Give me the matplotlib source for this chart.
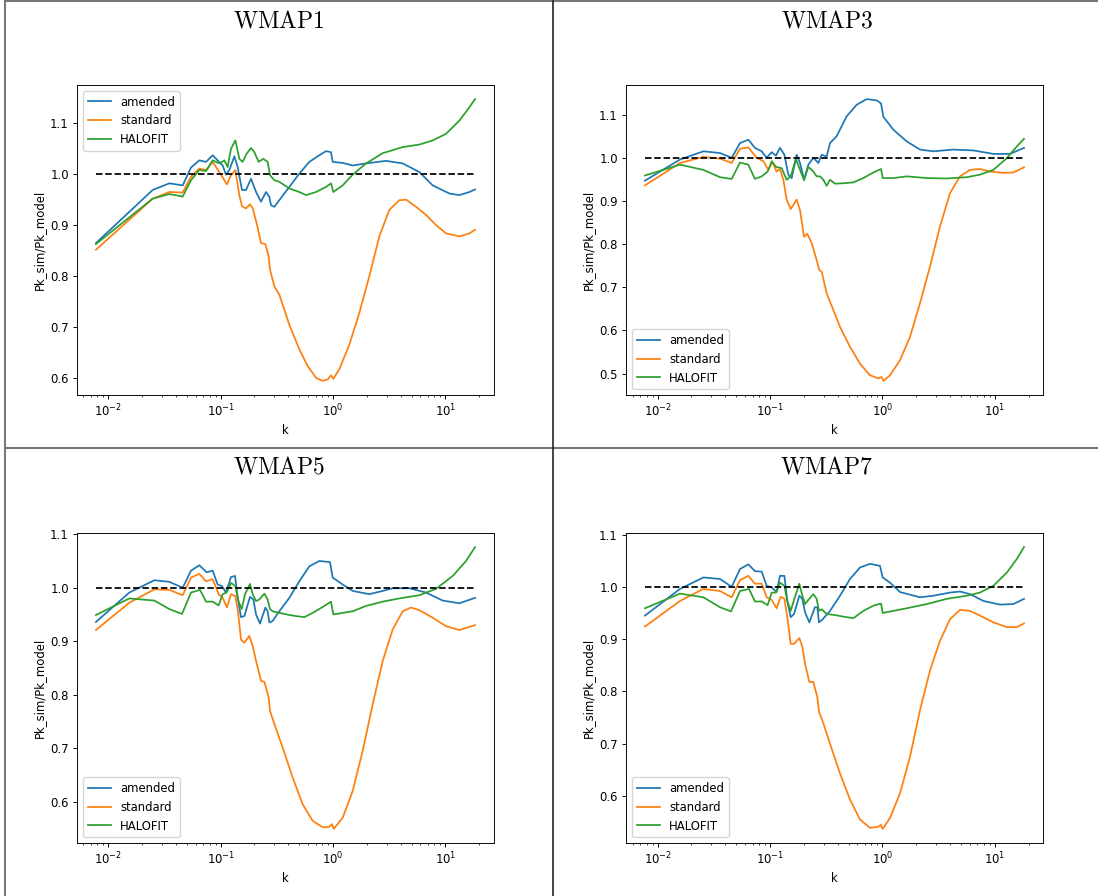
import numpy as np
import matplotlib
matplotlib.use('Agg')
import matplotlib.pyplot as plt
from matplotlib.lines import Line2D

plt.rcParams['mathtext.fontset'] = 'cm'

TITLES = ['WMAP1', 'WMAP3', 'WMAP5', 'WMAP7']
LABELS = ['amended', 'standard', 'HALOFIT']
LEGEND_LOC = ['upper left', 'lower left', 'lower left', 'lower left']

# ---- WMAP1 (k given as log10 k)
W1_LK_AMD = [-2.11, -1.605, -1.457, -1.338, -1.264, -1.19, -1.13, -1.071, -1.027, -0.982,
             -0.953, -0.923, -0.878, -0.849, -0.81, -0.774, -0.73, -0.685, -0.641, -0.597,
             -0.567, -0.552, -0.522, -0.478, -0.389, -0.3, -0.211, -0.122, -0.062, -0.018,
             -0.003, 0.086, 0.175, 0.294, 0.472, 0.62, 0.769, 0.887, 1.036, 1.125, 1.214, 1.264]
W1_AMD = [0.865, 0.969, 0.982, 0.978, 1.013, 1.027, 1.024, 1.037, 1.027, 1.017,
          0.999, 1.008, 1.035, 1.014, 0.969, 0.969, 0.991, 0.965, 0.946, 0.965,
          0.956, 0.939, 0.936, 0.949, 0.975, 1.001, 1.024, 1.037, 1.045, 1.043,
          1.024, 1.022, 1.017, 1.021, 1.026, 1.021, 1.004, 0.978, 0.962, 0.959, 0.965, 0.970]
W1_LK_STD = [-2.11, -1.605, -1.457, -1.338, -1.264, -1.19, -1.13, -1.071, -1.012, -0.944,
             -0.908, -0.869, -0.834, -0.81, -0.774, -0.739, -0.715, -0.68, -0.641, -0.602,
             -0.573, -0.561, -0.522, -0.478, -0.389, -0.3, -0.226, -0.151, -0.092, -0.047,
             -0.018, 0.003, 0.056, 0.145, 0.234, 0.323, 0.412, 0.501, 0.59, 0.65, 0.739,
             0.828, 0.917, 1.006, 1.125, 1.214, 1.264]
W1_STD = [0.852, 0.952, 0.965, 0.964, 0.995, 1.011, 1.008, 1.024, 1.004, 0.980,
          0.998, 1.008, 0.959, 0.937, 0.933, 0.941, 0.933, 0.904, 0.865, 0.863,
          0.839, 0.813, 0.780, 0.764, 0.705, 0.657, 0.624, 0.601, 0.595, 0.598,
          0.606, 0.599, 0.618, 0.666, 0.728, 0.800, 0.878, 0.930, 0.949, 0.950, 0.936,
          0.920, 0.900, 0.884, 0.878, 0.884, 0.891]
W1_LK_HF = [-2.11, -1.605, -1.457, -1.338, -1.264, -1.19, -1.13, -1.071, -1.012, -0.967,
            -0.938, -0.908, -0.869, -0.834, -0.804, -0.769, -0.73, -0.7, -0.662, -0.62,
            -0.582, -0.561, -0.522, -0.478, -0.389, -0.3, -0.24, -0.151, -0.062, -0.018,
            0.003, 0.086, 0.175, 0.294, 0.442, 0.62, 0.769, 0.887, 1.006, 1.125, 1.214, 1.264]
W1_HF = [0.863, 0.952, 0.961, 0.956, 0.988, 1.008, 1.006, 1.027, 1.021, 1.027,
         1.014, 1.050, 1.066, 1.030, 1.024, 1.040, 1.051, 1.043, 1.024, 1.030,
         1.024, 0.998, 0.988, 0.985, 0.972, 0.965, 0.959, 0.965, 0.975, 0.982,
         0.965, 0.978, 0.999, 1.021, 1.041, 1.053, 1.058, 1.066, 1.079, 1.105, 1.131, 1.147]

# ---- WMAP3
W3_LK_AMD = [-2.113, -1.801, -1.593, -1.445, -1.341, -1.267, -1.193, -1.134, -1.074, -1.03,
             -0.985, -0.947, -0.911, -0.872, -0.837, -0.807, -0.763, -0.733, -0.697, -0.659,
             -0.614, -0.57, -0.54, -0.496, -0.466, -0.407, -0.318, -0.228, -0.139, -0.05,
             -0.012, 0.009, 0.098, 0.217, 0.335, 0.454, 0.632, 0.81, 0.988, 1.136, 1.261]
W3_AMD = [0.947, 0.996, 1.015, 1.011, 1.000, 1.034, 1.042, 1.023, 1.015, 1.000,
          1.013, 1.005, 1.023, 1.007, 0.961, 0.953, 1.007, 0.988, 0.949, 0.984,
          1.000, 0.988, 1.007, 1.003, 1.034, 1.050, 1.096, 1.123, 1.136, 1.133,
          1.126, 1.095, 1.065, 1.038, 1.019, 1.015, 1.019, 1.017, 1.009, 1.009, 1.023]
W3_LK_STD = [-2.113, -1.801, -1.593, -1.445, -1.341, -1.267, -1.193, -1.119, -1.059, -1.015,
             -0.979, -0.941, -0.911, -0.881, -0.852, -0.816, -0.792, -0.763, -0.733, -0.697,
             -0.668, -0.629, -0.585, -0.561, -0.54, -0.496, -0.436, -0.377, -0.288, -0.199,
             -0.11, -0.036, -0.006, 0.009, 0.068, 0.157, 0.246, 0.335, 0.424, 0.513, 0.602,
             0.691, 0.78, 0.869, 0.958, 1.077, 1.166, 1.261]
W3_STD = [0.936, 0.988, 1.002, 0.998, 0.988, 1.021, 1.024, 1.000, 0.992, 0.972,
          0.990, 0.968, 0.974, 0.949, 0.903, 0.881, 0.891, 0.903, 0.879, 0.817,
          0.824, 0.802, 0.763, 0.740, 0.736, 0.686, 0.647, 0.608, 0.562, 0.523,
          0.496, 0.489, 0.492, 0.483, 0.496, 0.531, 0.585, 0.663, 0.748, 0.841, 0.918,
          0.957, 0.972, 0.974, 0.968, 0.965, 0.966, 0.978]
W3_LK_HF = [-2.113, -1.801, -1.593, -1.445, -1.341, -1.267, -1.193, -1.134, -1.074, -1.021,
            -0.985, -0.947, -0.896, -0.852, -0.816, -0.769, -0.733, -0.697, -0.659, -0.614,
            -0.585, -0.555, -0.525, -0.496, -0.466, -0.421, -0.347, -0.258, -0.169, -0.08,
            -0.012, 0.003, 0.098, 0.217, 0.395, 0.573, 0.751, 0.869, 0.988, 1.107, 1.196, 1.261]
W3_HF = [0.959, 0.984, 0.972, 0.955, 0.951, 0.989, 0.984, 0.951, 0.957, 0.968,
         0.992, 0.979, 0.976, 0.949, 0.957, 0.997, 0.972, 0.948, 0.979, 0.968,
         0.957, 0.957, 0.949, 0.935, 0.949, 0.940, 0.941, 0.943, 0.953, 0.966,
         0.974, 0.953, 0.953, 0.957, 0.953, 0.952, 0.955, 0.961, 0.972, 0.999, 1.026, 1.044]

# ---- WMAP5
W5_LK_AMD = [-2.11, -1.813, -1.59, -1.457, -1.338, -1.264, -1.19, -1.125, -1.071, -1.027,
             -0.988, -0.953, -0.908, -0.872, -0.849, -0.819, -0.789, -0.739, -0.709, -0.685,
             -0.65, -0.602, -0.582, -0.567, -0.537, -0.478, -0.389, -0.3, -0.211, -0.122,
             -0.027, -0.003, 0.086, 0.175, 0.323, 0.442, 0.531, 0.68, 0.828, 0.976, 1.125, 1.264]
W5_AMD = [0.936, 0.991, 1.014, 1.011, 1.000, 1.032, 1.042, 1.029, 1.032, 1.006,
          1.003, 0.991, 1.020, 1.022, 0.981, 0.945, 0.947, 0.983, 0.978, 0.950,
          0.933, 0.963, 0.956, 0.935, 0.938, 0.956, 0.981, 1.012, 1.040, 1.050,
          1.048, 1.019, 1.006, 0.994, 0.988, 0.994, 0.999, 0.999, 0.991, 0.976, 0.971, 0.981]
W5_LK_STD = [-2.11, -1.813, -1.59, -1.457, -1.338, -1.264, -1.19, -1.13, -1.071, -1.018,
             -0.982, -0.944, -0.908, -0.869, -0.843, -0.819, -0.789, -0.745, -0.715, -0.685,
             -0.641, -0.611, -0.573, -0.561, -0.522, -0.448, -0.359, -0.27, -0.181, -0.092,
             -0.033, -0.009, 0.006, 0.086, 0.175, 0.264, 0.353, 0.442, 0.531, 0.62, 0.694,
             0.769, 0.887, 1.006, 1.125, 1.264]
W5_STD = [0.921, 0.972, 0.997, 0.996, 0.986, 1.019, 1.026, 1.012, 1.016, 0.988,
          0.981, 0.963, 0.988, 0.984, 0.950, 0.903, 0.897, 0.910, 0.891, 0.863,
          0.826, 0.824, 0.795, 0.770, 0.745, 0.701, 0.645, 0.595, 0.564, 0.552,
          0.553, 0.558, 0.549, 0.570, 0.620, 0.695, 0.782, 0.863, 0.922, 0.956, 0.963,
          0.958, 0.944, 0.928, 0.921, 0.930]
W5_LK_HF = [-2.11, -1.813, -1.59, -1.457, -1.344, -1.264, -1.184, -1.13, -1.071, -1.018,
            -0.982, -0.947, -0.908, -0.869, -0.843, -0.813, -0.783, -0.739, -0.715, -0.685,
            -0.656, -0.611, -0.582, -0.561, -0.537, -0.478, -0.389, -0.329, -0.255, -0.181,
            -0.092, -0.018, 0.003, 0.086, 0.175, 0.294, 0.442, 0.59, 0.769, 0.917, 1.065,
            1.184, 1.264]
W5_HF = [0.949, 0.980, 0.976, 0.960, 0.951, 0.991, 0.996, 0.974, 0.974, 0.967,
         0.988, 0.991, 1.009, 1.003, 0.976, 0.960, 0.988, 1.007, 0.988, 0.975,
         0.978, 0.989, 0.978, 0.960, 0.956, 0.953, 0.949, 0.947, 0.945, 0.953,
         0.964, 0.974, 0.950, 0.953, 0.956, 0.966, 0.974, 0.980, 0.986, 0.998, 1.022,
         1.050, 1.076]

# ---- WMAP7
W7_LK_AMD = [-2.113, -1.801, -1.593, -1.445, -1.341, -1.267, -1.193, -1.134, -1.074, -1.03,
             -0.985, -0.941, -0.911, -0.872, -0.846, -0.816, -0.786, -0.739, -0.712, -0.688,
             -0.65, -0.6, -0.579, -0.564, -0.531, -0.466, -0.377, -0.288, -0.199, -0.11,
             -0.021, 0.003, 0.068, 0.157, 0.335, 0.454, 0.602, 0.691, 0.78, 0.899, 1.047,
             1.166, 1.261]
W7_AMD = [0.945, 0.996, 1.018, 1.015, 1.000, 1.034, 1.043, 1.030, 1.029, 1.002,
          0.999, 0.990, 1.021, 1.021, 0.973, 0.942, 0.948, 0.983, 0.977, 0.951,
          0.932, 0.961, 0.961, 0.932, 0.938, 0.954, 0.983, 1.015, 1.037, 1.044,
          1.040, 1.018, 1.008, 0.990, 0.980, 0.983, 0.989, 0.991, 0.986, 0.973, 0.966,
          0.967, 0.977]
W7_LK_STD = [-2.113, -1.801, -1.593, -1.445, -1.341, -1.267, -1.193, -1.134, -1.074, -1.03,
             -0.985, -0.941, -0.905, -0.872, -0.846, -0.816, -0.786, -0.739, -0.712, -0.688,
             -0.65, -0.614, -0.579, -0.564, -0.525, -0.466, -0.377, -0.288, -0.199, -0.11,
             -0.036, -0.015, 0.003, 0.068, 0.157, 0.246, 0.335, 0.424, 0.513, 0.602, 0.691,
             0.78, 0.869, 0.988, 1.107, 1.196, 1.261]
W7_STD = [0.924, 0.973, 0.996, 0.992, 0.980, 1.013, 1.021, 1.006, 1.006, 0.980,
          0.975, 0.959, 0.981, 0.977, 0.942, 0.891, 0.891, 0.902, 0.885, 0.853,
          0.818, 0.818, 0.789, 0.761, 0.739, 0.700, 0.643, 0.593, 0.555, 0.539,
          0.541, 0.545, 0.537, 0.558, 0.605, 0.675, 0.764, 0.840, 0.897, 0.938, 0.956,
          0.954, 0.945, 0.932, 0.923, 0.923, 0.930]
W7_LK_HF = [-2.113, -1.801, -1.593, -1.445, -1.347, -1.267, -1.187, -1.134, -1.074, -1.021,
            -0.985, -0.947, -0.911, -0.872, -0.846, -0.816, -0.783, -0.739, -0.712, -0.688,
            -0.659, -0.614, -0.585, -0.564, -0.54, -0.496, -0.421, -0.347, -0.258, -0.169,
            -0.08, -0.012, 0.003, 0.098, 0.217, 0.395, 0.573, 0.751, 0.869, 0.988, 1.107,
            1.196, 1.261]
W7_HF = [0.959, 0.987, 0.980, 0.961, 0.953, 0.992, 0.996, 0.972, 0.972, 0.965,
         0.989, 0.989, 1.008, 1.002, 0.973, 0.954, 0.977, 1.006, 0.983, 0.967,
         0.975, 0.986, 0.977, 0.954, 0.957, 0.948, 0.946, 0.943, 0.940, 0.954,
         0.964, 0.968, 0.950, 0.954, 0.959, 0.967, 0.977, 0.983, 0.989, 1.002, 1.027,
         1.053, 1.076]

PANELS = [
    [(W1_LK_AMD, W1_AMD), (W1_LK_STD, W1_STD), (W1_LK_HF, W1_HF)],
    [(W3_LK_AMD, W3_AMD), (W3_LK_STD, W3_STD), (W3_LK_HF, W3_HF)],
    [(W5_LK_AMD, W5_AMD), (W5_LK_STD, W5_STD), (W5_LK_HF, W5_HF)],
    [(W7_LK_AMD, W7_AMD), (W7_LK_STD, W7_STD), (W7_LK_HF, W7_HF)],
]

# each panel was a default 6.4x4.8 figure shown at ~84 dpi -> scale 0.84
S = 0.84
W, H = 1098, 896
plt.rcParams.update({
    'font.size': 10 * S, 'lines.linewidth': 1.5 * S, 'axes.linewidth': 0.8 * S,
    'xtick.major.size': 3.5 * S, 'ytick.major.size': 3.5 * S,
    'xtick.minor.size': 2 * S, 'ytick.minor.size': 2 * S,
    'xtick.major.width': 0.8 * S, 'ytick.major.width': 0.8 * S,
    'xtick.minor.width': 0.6 * S, 'ytick.minor.width': 0.6 * S,
    'xtick.major.pad': 3.5 * S, 'ytick.major.pad': 3.5 * S,
    'axes.labelpad': 4 * S,
})

fig = plt.figure(figsize=(W / 100, H / 100), dpi=100)

# axes boxes in pixels: (left, top)
AX_POS = [(77, 85), (626, 85), (77, 533), (626, 533)]
AX_W, AX_H = 417, 310
TITLE_POS = [(279, 20), (827, 20), (279, 467), (827, 467)]

for i, curves in enumerate(PANELS):
    l, t = AX_POS[i]
    ax = fig.add_axes([l / W, 1 - (t + AX_H) / H, AX_W / W, AX_H / H])
    for (lk, v), lab in zip(curves, LABELS):
        ax.plot(10 ** np.asarray(lk), v, label=lab)
    kk = 10 ** np.asarray(curves[0][0])
    ax.plot([kk.min(), kk.max()], [1, 1], 'k--')
    ax.set_xscale('log')
    ax.set_xlabel('k')
    ax.set_ylabel('Pk_sim/Pk_model')
    ax.legend(loc=LEGEND_LOC[i])
    tx, ty = TITLE_POS[i]
    fig.text(tx / W, 1 - ty / H, r'$\mathrm{%s}$' % TITLES[i], fontsize=17,
             ha='center', va='center')

# cell borders
def hline(y, x0, x1, c, lw):
    fig.add_artist(Line2D([x0 / W, x1 / W], [1 - y / H, 1 - y / H], color=c, lw=lw,
                          transform=fig.transFigure))

def vline(x, y0, y1, c, lw):
    fig.add_artist(Line2D([x / W, x / W], [1 - y0 / H, 1 - y1 / H], color=c, lw=lw,
                          transform=fig.transFigure))

hline(1.5, 5, W, '#777777', 1.5)
hline(448, 5, W, '#777777', 1.5)
vline(5, 1, H, '#777777', 1.5)
vline(553, 1, H, '#222222', 1.2)

fig.savefig('out.png', dpi=100)
